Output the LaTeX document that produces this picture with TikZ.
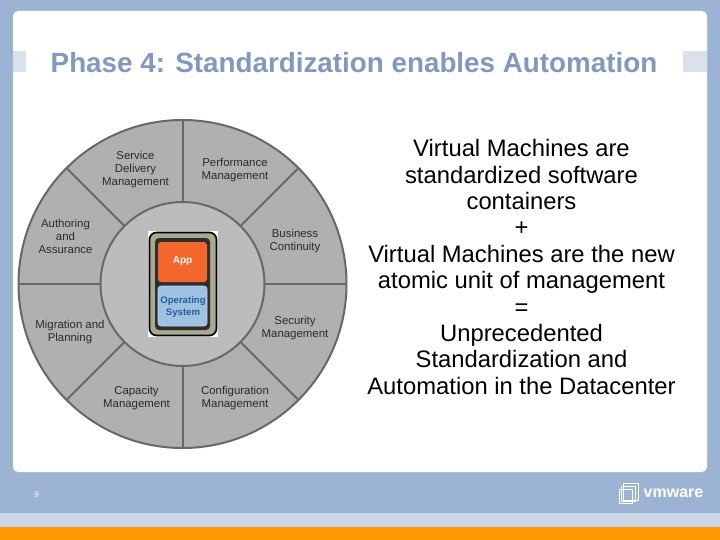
\documentclass[tikz,border=0pt]{standalone}
\usepackage{fontspec}
\usetikzlibrary{calc}
\setmainfont{Liberation Sans}
\definecolor{bgblue}{HTML}{9DB3D3}
\definecolor{bandblue}{HTML}{CAD7E6}
\definecolor{tabblue}{HTML}{D8E1EC}
\definecolor{barorange}{HTML}{FF9900}
\definecolor{titleblue}{HTML}{8298BE}
\definecolor{wheelgrey}{HTML}{B0B0B0}
\definecolor{hubgrey}{HTML}{BCBCBC}
\definecolor{spokegrey}{HTML}{686868}
\definecolor{labelgrey}{HTML}{2A2A2A}
\definecolor{cardkhaki}{HTML}{A9A98F}
\definecolor{carddark}{HTML}{2E2E2E}
\definecolor{apporange}{HTML}{F4672C}
\definecolor{osblue}{HTML}{9FC2E2}
\definecolor{ostext}{HTML}{2A5C9C}
\tikzset{
  wheellabel/.style={align=center,text=labelgrey,font=\fontsize{11.4}{13}\selectfont,inner sep=0pt},
  spoke/.style={draw=spokegrey,line width=2pt},
}
\begin{document}
\begin{tikzpicture}[x=1pt,y=-1pt]
\useasboundingbox (0,0) rectangle (720,540);
\fill[bgblue] (0,0) rectangle (720,540);
\fill[bandblue] (0,513) rectangle (720,527);
\fill[barorange] (0,527) rectangle (720,540);
\fill[white,rounded corners=5pt] (13,11) rectangle (707,472);
\fill[tabblue] (13,51) rectangle (26,72);
\fill[tabblue] (683,51) rectangle (707,72);
\node[inner sep=0pt,text=titleblue,font=\fontsize{27.8}{30}\selectfont\bfseries] (title) at (354,62.5) {Phase 4: Standardization enables Automation};
% wheel
\coordinate (hub) at (182.5,284);
\filldraw[fill=wheelgrey,draw=spokegrey,line width=2pt] (hub) circle[radius=164];
\foreach \a in {0,45,...,315}{
  \draw[spoke] ($(hub)+(\a:82)$) -- ($(hub)+(\a:164)$);
}
\filldraw[fill=hubgrey,draw=spokegrey,line width=2pt] (hub) circle[radius=82];
\node[wheellabel] (sdm) at (135.5,169.5) {Service\\Delivery\\Management};
\node[wheellabel] (pm) at (235,170) {Performance\\Management};
\node[wheellabel] (aa) at (65.5,236.5) {Authoring\\and\\Assurance};
\node[wheellabel] (bc) at (295,241) {Business\\Continuity};
\node[wheellabel] (mp) at (70,332) {Migration and\\Planning};
\node[wheellabel] (sm) at (295,328) {Security\\Management};
\node[wheellabel] (cm) at (136.5,398) {Capacity\\Management};
\node[wheellabel] (cfm) at (235,398) {Configuration\\Management};
% card
\fill[white] (148,231) rectangle (218,337);
\filldraw[fill=cardkhaki,draw=black,line width=1.6pt,rounded corners=7pt] (149.5,232.5) rectangle (216.5,335.5);
\fill[carddark,rounded corners=4pt] (155,238) rectangle (210,330);
\fill[apporange,rounded corners=3pt] (158,242) rectangle (207,282);
\filldraw[fill=osblue,draw=osblue!70!white,line width=.6pt,rounded corners=3pt] (158,286) rectangle (207,326);
\node[inner sep=0pt,text=white,font=\fontsize{10}{12}\selectfont\bfseries] (app) at (182.5,261.5) {App};
\node[inner sep=0pt,align=center,text=ostext,font=\fontsize{9.6}{12.8}\selectfont\bfseries] (os) at (183,307) {Operating\\System};
% right text
\node[inner sep=0pt,align=center,text=black,font=\fontsize{23.8}{26.35}\selectfont] (body) at (521.5,267) {Virtual Machines are\\standardized software\\containers\\+\\Virtual Machines are the new\\atomic unit of management\\=\\Unprecedented\\Standardization and\\Automation in the Datacenter};
% footer
\node[inner sep=0pt,text=white,font=\fontsize{8}{9}\selectfont] (page) at (36.5,495) {9};
\draw[white,line width=.8pt] (623,483.5) rectangle (638,500);
\draw[white,line width=.8pt] (621,486) rectangle (635,501.5);
\draw[white,line width=.8pt] (619,489) rectangle (632,503);
\node[inner sep=0pt,text=white,font=\fontsize{16}{16}\selectfont\bfseries] (logo) at (673.5,493) {vmware};
\end{tikzpicture}
\end{document}
